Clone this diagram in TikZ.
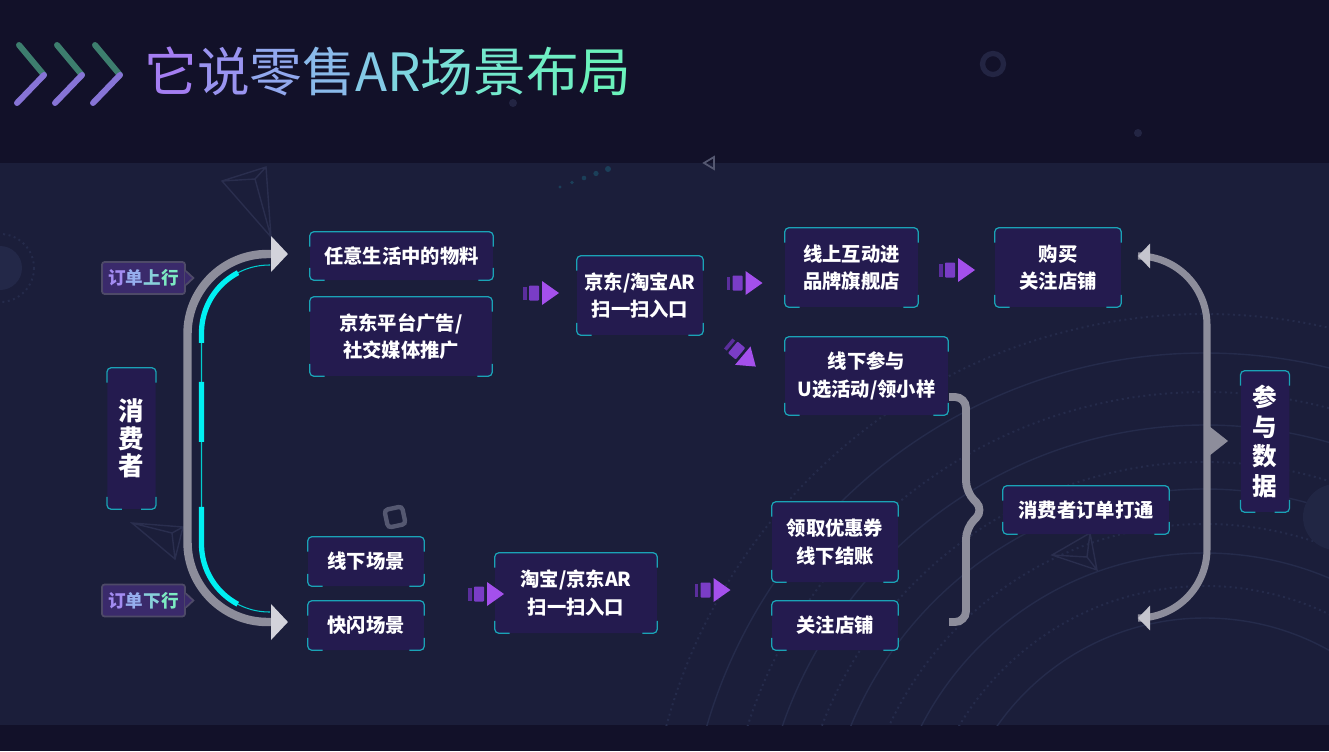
\documentclass[tikz,border=0pt]{standalone}
\usepackage{fontspec}
\setmainfont{Noto Sans CJK SC}
\usepackage{tikz}
\usetikzlibrary{arrows.meta,calc,positioning}
\definecolor{koyuZemin}{HTML}{121129}
\definecolor{anaZemin}{HTML}{1B1E3A}
\definecolor{kutuMor}{HTML}{241B4F}
\definecolor{camgobegi}{HTML}{1AA3B6}
\definecolor{parlakCam}{HTML}{00F0F2}
\definecolor{griYay}{HTML}{8D8D9B}
\definecolor{acikGri}{HTML}{D3D3DB}
\definecolor{etiketMor}{HTML}{3A2A6B}
\definecolor{etiketKenar}{HTML}{4E4A68}
\definecolor{morKoyu}{HTML}{5A2E9C}
\definecolor{morOrta}{HTML}{7A3DC6}
\definecolor{morAcik}{HTML}{A450EC}
\definecolor{halka}{HTML}{252B4B}
\definecolor{sonuk}{HTML}{2A2E4E}
\definecolor{baslikYesil}{HTML}{3D7E6E}
\definecolor{baslikMor}{HTML}{8774D6}
\definecolor{b1}{HTML}{A47EF2}
\definecolor{b2}{HTML}{9A94F0}
\definecolor{b3}{HTML}{92A8EE}
\definecolor{b4}{HTML}{8ABAEA}
\definecolor{b5}{HTML}{84CAE6}
\definecolor{b6}{HTML}{7ED6E0}
\definecolor{b7}{HTML}{78E0D6}
\definecolor{b8}{HTML}{73E8CC}
\definecolor{b9}{HTML}{6FEEC4}
\definecolor{b10}{HTML}{6BF2BC}
\definecolor{e1}{HTML}{A38CF2}
\definecolor{e2}{HTML}{96AEEE}
\definecolor{e3}{HTML}{88D0DA}
\definecolor{e4}{HTML}{7CEAC2}

\begin{document}
\begin{tikzpicture}[x=0.02cm, y=-0.02cm,
  every node/.style={text=white, font=\bfseries\fontsize{11}{15.6}\selectfont},
  kutu/.style={fill=kutuMor, rounded corners=2.5pt, align=center, inner sep=0pt},
  kenar/.style={draw=camgobegi, line width=0.7pt, rounded corners=2.5pt},
  etiket/.style={fill=etiketMor, draw=etiketKenar, line width=1pt, rounded corners=1.5pt,
                 minimum width=1.66cm, minimum height=0.64cm, inner sep=0pt,
                 font=\bfseries\fontsize{10}{11}\selectfont},
  dikey/.style={kutu, minimum width=0.97cm, minimum height=2.82cm},
  okIkon/.pic={
    \fill[morKoyu] (-18,-6.5) rectangle (-14.5,6.5);
    \fill[morOrta, rounded corners=0.5pt] (-12,-7.5) rectangle (-2,7.5);
    \fill[morAcik] (1,-12) -- (18,0) -- (1,12) -- cycle;}]
\useasboundingbox (0,0) rectangle (1329,751);
% zemin
\fill[koyuZemin] (0,0) rectangle (1329,751);
\fill[anaZemin] (0,163) rectangle (1329,725);
\begin{scope}
  \clip (0,163) rectangle (1329,725);
  \foreach \r in {254,319,383,447,519} \draw[halka, line width=0.8pt] (1205,872) circle[radius=\r];
  \foreach \r in {286,348,410,480,558} \draw[halka, line width=1.1pt, dotted] (1205,872) circle[radius=\r];
  \fill[halka!80!anaZemin] (0,268) circle[radius=22];
  \draw[halka, dotted, line width=1.1pt] (0,268) circle[radius=34];
  \fill[halka!60!anaZemin] (1336,517) circle[radius=33];
\end{scope}
\draw[sonuk!70!koyuZemin, line width=3pt] (993,64) circle[radius=10.5];
\fill[sonuk!70!koyuZemin] (1138,133) circle[radius=4];
\fill[sonuk!70!koyuZemin] (513,103) circle[radius=4];
\draw[sonuk, line width=0.8pt] (222,181) -- (266,167) -- (271,237) -- cycle (222,181) -- (255,179) -- (271,237) (255,179) -- (266,167);
\draw[sonuk, line width=0.8pt] (132,523) -- (183,527) -- (175,559) -- cycle (132,523) -- (172,533) -- (175,559) (172,533) -- (183,527);
\draw[sonuk, line width=0.8pt] (1052,555) -- (1090,533) -- (1097,570) -- cycle (1052,555) -- (1087,557) -- (1097,570) (1087,557) -- (1090,533);
\draw[sonuk!80!white, line width=2.5pt, rounded corners=2pt, rotate around={12:(395,517)}] (386,508) rectangle (404,526);
\foreach \i in {0,...,4} \fill[camgobegi!25!anaZemin] ({560+12*\i},{187-4.5*\i}) circle[radius={1.6+0.35*\i}];
\draw[sonuk!80!white, line width=1pt] (704,163) -- (714,157) -- (714,169) -- cycle;
% baslik
\foreach \dx in {0,38,76} {
  \draw[baslikYesil, line width=3.4pt, line cap=round] ({19+\dx},45) -- ({44+\dx},75);
  \draw[baslikMor, line width=3.4pt, line cap=round] ({44+\dx},75) -- ({17+\dx},103);
}
\node[anchor=west, inner sep=0pt, font=\fontsize{30}{34}\selectfont] (baslik) at (144,71)
  {\color{b1}它\color{b2}说\color{b3}零\color{b4}售\color{b5}A\color{b6}R\color{b7}场\color{b8}景\color{b9}布\color{b10}局};
% kutular
\node[dikey, font=\bfseries\fontsize{14.5}{15.5}\selectfont] (tuketici) at (131.5,438.5) {消\\费\\者};
\node[kutu, minimum width=3.66cm, minimum height=0.96cm] (malzeme) at (401.5,256) {任意生活中的物料};
\node[kutu, minimum width=3.64cm, minimum height=1.58cm] (reklam) at (401,336.5) {京东平台广告/\\社交媒体推广};
\node[kutu, minimum width=2.52cm, minimum height=1.58cm] (tarama) at (640,295.5) {京东/淘宝AR\\扫一扫入口};
\node[kutu, minimum width=2.66cm, minimum height=1.58cm] (magaza) at (851.5,267.5) {线上互动进\\品牌旗舰店};
\node[kutu, minimum width=2.52cm, minimum height=1.58cm] (satin) at (1058,267.5) {购买\\关注店铺};
\node[kutu, minimum width=3.26cm, minimum height=1.56cm] (katilim) at (866.5,376) {线下参与\\U选活动/领小样};
\node[kutu, minimum width=3.32cm, minimum height=0.96cm] (siparis) at (1086,510) {消费者订单打通};
\node[dikey, font=\bfseries\fontsize{14}{17}\selectfont] (veri) at (1265,441.5) {参\\与\\数\\据};
\node[kutu, minimum width=2.32cm, minimum height=0.98cm] (sahne) at (366,561.5) {线下场景};
\node[kutu, minimum width=2.32cm, minimum height=0.98cm] (flas) at (366,625.5) {快闪场景};
\node[kutu, minimum width=3.24cm, minimum height=1.6cm] (tarama2) at (576,593) {淘宝/京东AR\\扫一扫入口};
\node[kutu, minimum width=2.52cm, minimum height=1.6cm] (kupon) at (835,542) {领取优惠券\\线下结账};
\node[kutu, minimum width=2.52cm, minimum height=0.98cm] (takip) at (835,625.5) {关注店铺};
\foreach \n in {tuketici,malzeme,reklam,tarama,magaza,satin,katilim,siparis,veri,sahne,flas,tarama2,kupon,takip} {
  \draw[kenar] ([yshift=-0.3cm]\n.north west) -- (\n.north west) -- (\n.north east) -- ([yshift=-0.3cm]\n.north east);
  \draw[kenar] ([yshift=0.25cm]\n.south west) -- (\n.south west) -- ([xshift=0.3cm]\n.south west);
  \draw[kenar] ([yshift=0.25cm]\n.south east) -- (\n.south east) -- ([xshift=-0.3cm]\n.south east);
}
% etiketler
\node[etiket] (yukari) at (143.5,278) {\color{e1}订\color{e2}单\color{e3}上\color{e4}行};
\node[etiket] (asagi) at (143.5,600.5) {\color{e1}订\color{e2}单\color{e3}下\color{e4}行};
\foreach \n in {yukari,asagi} {
  \fill[etiketMor] ([xshift=-0.6pt,yshift=0.14cm]\n.east) -- ([xshift=0.15cm]\n.east) -- ([xshift=-0.6pt,yshift=-0.14cm]\n.east) -- cycle;
  \draw[etiketKenar, line width=1pt] ([yshift=0.14cm]\n.east) -- ([xshift=0.15cm]\n.east) -- ([yshift=-0.14cm]\n.east);
}
% sol yay
\coordinate (ustUc) at (288,254);
\coordinate (altUc) at (288,622);
\draw[griYay, line width=4.8pt, rounded corners=1.6cm,
  {Triangle[length=0.34cm,width=0.7cm,color=acikGri]}-{Triangle[length=0.34cm,width=0.7cm,color=acikGri]}]
  (altUc) -- (187.5,622) -- (187.5,254) -- (ustUc);
\draw[parlakCam!85!black, line width=0.6pt, rounded corners=1.36cm] (270,265) -- (201.5,265) -- (201.5,612) -- (270,612);
\draw[parlakCam, line width=3pt, rounded corners=1.36cm,
  dash pattern=on 0pt off 18.9pt on 47.8pt off 22.2pt on 34.1pt off 37pt on 63.2pt off 40pt]
  (270,265) -- (201.5,265) -- (201.5,612) -- (270,612);
% oklar
\pic at (541,293) {okIkon};
\pic at (744.5,283) {okIkon};
\pic at (957,270) {okIkon};
\pic[rotate=-40] at (742,355) {okIkon};
\pic at (486,594) {okIkon};
\pic at (712.5,590) {okIkon};
% sag parantezler
\draw[griYay, line width=4.5pt, rounded corners=0.22cm]
  (949,397) -- (966,397) -- (966,492) -- (984,510) -- (966,528) -- (966,622) -- (949,622);
\draw[griYay, line width=4pt, rounded corners=1.38cm,
  {Triangle[length=0.24cm,width=0.48cm,color=acikGri!80!griYay]}-{Triangle[length=0.24cm,width=0.48cm,color=acikGri!80!griYay]}]
  (1138,256) -- (1207,256) -- (1207,618) -- (1138,618);
\fill[griYay] (1209,426) -- (1228,441) -- (1209,456) -- cycle;
\end{tikzpicture}
\end{document}
